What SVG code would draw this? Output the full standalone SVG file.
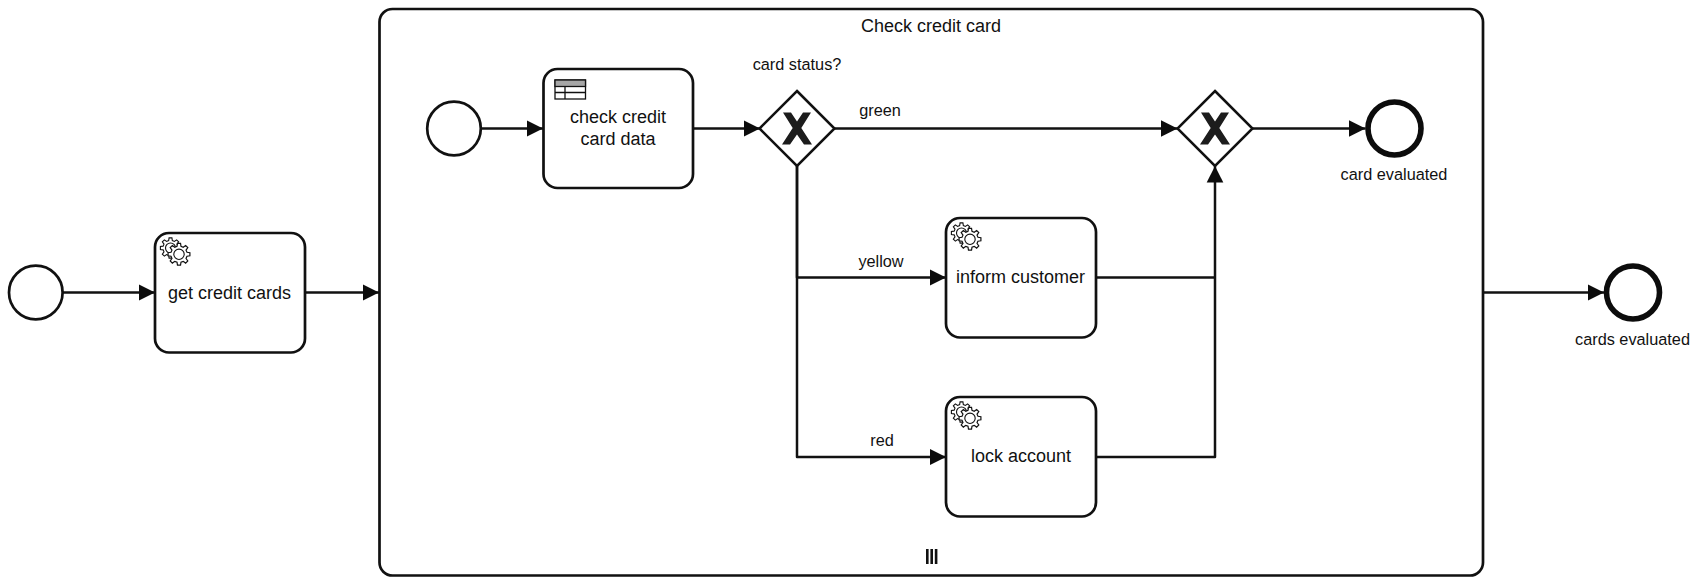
<svg xmlns="http://www.w3.org/2000/svg" xmlns:xlink="http://www.w3.org/1999/xlink" width="1700" height="585" viewBox="0 0 1700 585">
<style>
text{font-family:"Liberation Sans",Arial,sans-serif;font-size:16.3px;fill:#111;text-anchor:middle}
.big{font-size:18px}
.box{fill:#fff;stroke:#111;stroke-width:2.7}
.ev{fill:#fff;stroke:#111;stroke-width:2.7}
.end{fill:#fff;stroke:#0c0c0c;stroke-width:5.6}
.gw{fill:#fff;stroke:#111;stroke-width:2.5}
.flow{fill:none;stroke:#111;stroke-width:2.5;stroke-linejoin:round}
.gear{fill:#fff;stroke:#111;stroke-width:1.1}
</style>
<defs>
<marker id="arrow" markerUnits="userSpaceOnUse" markerWidth="18" markerHeight="18" refX="16.5" refY="9" orient="auto">
<path d="M0,0.7L16.5,9L0,17.3Z" fill="#0c0c0c"/>
</marker>
<path id="gearShape" d="M7.37,1.84L10.1,1.42L10.1,-1.42L7.37,-1.84L6.51,-3.91L8.15,-6.14L6.14,-8.15L3.91,-6.51L1.84,-7.37L1.42,-10.1L-1.42,-10.1L-1.84,-7.37L-3.91,-6.51L-6.14,-8.15L-8.15,-6.14L-6.51,-3.91L-7.37,-1.84L-10.1,-1.42L-10.1,1.42L-7.37,1.84L-6.51,3.91L-8.15,6.14L-6.14,8.15L-3.91,6.51L-1.84,7.37L-1.42,10.1L1.42,10.1L1.84,7.37L3.91,6.51L6.14,8.15L8.15,6.14L6.51,3.91Z"/>
<g id="service">
<use xlink:href="#gearShape" href="#gearShape" class="gear" transform="translate(15.5,15)"/>
<circle cx="15.5" cy="15" r="5" class="gear"/>
<use xlink:href="#gearShape" href="#gearShape" class="gear" transform="translate(24,21.3) scale(1.08)"/>
<circle cx="24" cy="21.3" r="5.2" class="gear"/>
</g>
<path id="xmark" d="M-14,-16L-6,-16L0,-7L6,-16L14,-16L4.3,-0.5L15,16L7,16L0,6L-7,16L-15,16L-4.3,-0.5Z" fill="#1c1c1c"/>
</defs>
<rect width="1700" height="585" fill="#fff"/>
<g id="subprocess">
<rect class="box" x="379.5" y="9" width="1103.5" height="566.5" rx="13"/>
<text class="big" x="931" y="32">Check credit card</text>
<rect x="926" y="549" width="2.6" height="15" fill="#111"/>
<rect x="930.4" y="549" width="2.6" height="15" fill="#111"/>
<rect x="934.8" y="549" width="2.6" height="15" fill="#111"/>
</g>
<g id="connectors">
<path class="flow" marker-end="url(#arrow)" d="M62,292.5H155"/>
<path class="flow" marker-end="url(#arrow)" d="M305,292.5H379"/>
<path class="flow" marker-end="url(#arrow)" d="M1483,292.5H1604"/>
<path class="flow" marker-end="url(#arrow)" d="M481,128.5H543"/>
<path class="flow" marker-end="url(#arrow)" d="M693,128.5H760"/>
<path class="flow" marker-end="url(#arrow)" d="M834.5,128.5H1177.5"/>
<path class="flow" marker-end="url(#arrow)" d="M1252.5,128.5H1365.5"/>
<path class="flow" marker-end="url(#arrow)" d="M797,166V277.5H946"/>
<path class="flow" marker-end="url(#arrow)" d="M797,166V457H946"/>
<path class="flow" d="M1096,277.5H1215"/>
<path class="flow" marker-end="url(#arrow)" d="M1096,457H1215V166"/>
</g>
<text x="880" y="116">green</text>
<text x="881" y="267">yellow</text>
<text x="882" y="446">red</text>
<g id="start1"><circle class="ev" cx="35.8" cy="292.5" r="26.8"/></g>
<g id="getCards">
<rect class="box" x="155" y="233" width="150" height="119.5" rx="14"/>
<use xlink:href="#service" href="#service" transform="translate(155,233)"/>
<text class="big" x="229.5" y="298.5">get credit cards</text>
</g>
<g id="start2"><circle class="ev" cx="454" cy="128.5" r="26.8"/></g>
<g id="checkData">
<rect class="box" x="543.5" y="69" width="149.5" height="119" rx="14"/>
<rect x="555" y="80" width="30.5" height="19" fill="#fff" stroke="#111" stroke-width="1.3"/>
<rect x="555" y="80" width="30.5" height="6.5" fill="#a6a6a6" stroke="#111" stroke-width="1.3"/>
<path d="M555,92.5H585.5M565,86.5V99" fill="none" stroke="#111" stroke-width="1.3"/>
<text class="big" x="618" y="122.5">check credit</text>
<text class="big" x="618" y="144.5">card data</text>
</g>
<g id="gw1">
<path class="gw" d="M797,91L834.5,128.5L797,166L759.5,128.5Z"/>
<use xlink:href="#xmark" href="#xmark" transform="translate(797,128.5)"/>
<text x="797" y="70">card status?</text>
</g>
<g id="gw2">
<path class="gw" d="M1215,91L1252.5,128.5L1215,166L1177.5,128.5Z"/>
<use xlink:href="#xmark" href="#xmark" transform="translate(1215,128.5)"/>
</g>
<g id="informCustomer">
<rect class="box" x="946" y="218" width="150" height="119.5" rx="14"/>
<use xlink:href="#service" href="#service" transform="translate(946,218)"/>
<text class="big" x="1020.5" y="283">inform customer</text>
</g>
<g id="lockAccount">
<rect class="box" x="946" y="397" width="150" height="119.5" rx="14"/>
<use xlink:href="#service" href="#service" transform="translate(946,397)"/>
<text class="big" x="1021" y="462">lock account</text>
</g>
<g id="end1">
<circle class="end" cx="1394.5" cy="128.5" r="26.5"/>
<text x="1394" y="180">card evaluated</text>
</g>
<g id="end2">
<circle class="end" cx="1633" cy="292.5" r="26.5"/>
<text x="1632.5" y="345">cards evaluated</text>
</g>
</svg>
